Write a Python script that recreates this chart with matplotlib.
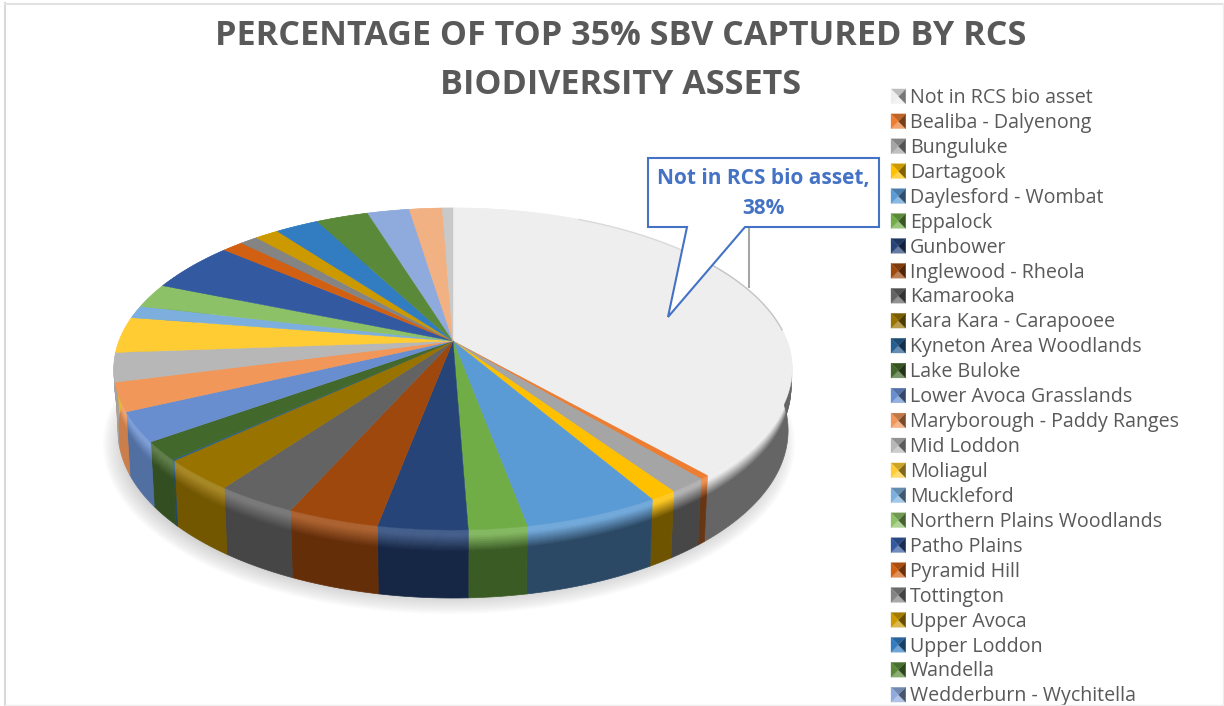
import matplotlib
matplotlib.use('Agg')
import matplotlib.pyplot as plt
import numpy as np
from matplotlib.collections import PolyCollection
from matplotlib.colors import to_rgb
from matplotlib.legend_handler import HandlerBase
from matplotlib.patches import Ellipse, Patch, Polygon

# Data (percent of top 35% SBV)
assets = ['Not in RCS bio asset', 'Bealiba - Dalyenong', 'Bunguluke', 'Dartagook',
          'Daylesford - Wombat', 'Eppalock', 'Gunbower', 'Inglewood - Rheola',
          'Kamarooka', 'Kara Kara - Carapooee', 'Kyneton Area Woodlands', 'Lake Buloke',
          'Lower Avoca Grasslands', 'Maryborough - Paddy Ranges', 'Mid Loddon', 'Moliagul',
          'Muckleford', 'Northern Plains Woodlands', 'Patho Plains', 'Pyramid Hill',
          'Tottington', 'Upper Avoca', 'Upper Loddon', 'Wandella', 'Wedderburn - Wychitella']
# the last two slices have no visible legend entry, the legend is cut off in the picture
values = [38.4, 0.4, 1.55, 1.1, 5.5, 2.35, 3.6, 3.7, 3.3, 3.15, 0.1, 1.85, 2.95,
          2.85, 2.9, 3.6, 1.25, 2.45, 5.05, 1.2, 1.0, 1.35, 2.45, 2.95, 2.35, 1.85, 0.6]
colors = ['#EEEEEE', '#ED7D31', '#A5A5A5', '#FFC000', '#5B9BD5', '#70AD47', '#264478',
          '#9E480E', '#636363', '#997300', '#255E91', '#43682B', '#698ED0', '#F1975A',
          '#B7B7B7', '#FFCD33', '#7CAFDD', '#8CC168', '#335AA1', '#D26012', '#848484',
          '#CC9A00', '#327DC2', '#5A8A39', '#8FAADC', '#F1B183', '#C9C9C9']

title_lines = ['PERCENTAGE OF TOP 35% SBV CAPTURED BY RCS', 'BIODIVERSITY ASSETS']
TEXT_GREY = '#595959'
FONT = ['Open Sans', 'DejaVu Sans']


def project(theta, r=1.0, depth=0.0):
    # disc angle (clockwise from the far side) to pixels, perspective view of the pie
    u = r * np.sin(theta)
    v = r * np.cos(theta)
    w = 1 + 0.174 * v
    x = 453 + 334 * u / w
    y = (341 - 96.8 * v) / w
    drop = depth * (60 - 8 * v) / 60
    return x - (x - 453) * 0.012 * depth / 60, y + drop


def mix(c, other, t):
    return tuple((1 - t) * a + t * b for a, b in zip(to_rgb(c), to_rgb(other)))


def wall_colour(c, f, dark):
    # bevel: light edge just under the top face, fading into the dark wall
    shade = mix(c, 'black', dark)
    if f < 0.07:
        return mix(c, 'white', 0.14)
    if f < 0.30:
        return mix(mix(c, 'white', 0.14), shade, (f - 0.07) / 0.23)
    return shade


fig = plt.figure(figsize=(12.24, 7.06), dpi=100)
ax = fig.add_axes([0, 0, 1, 1])
ax.set_xlim(0, 1224)
ax.set_ylim(706, 0)
ax.axis('off')

# soft shadow under the pie
for i in range(16):
    ax.add_patch(Ellipse((449, 444), 2 * (346 - i * 1.6), 2 * (170 - i * 1.4),
                         facecolor='#707070', alpha=0.022, lw=0, zorder=1))

edges = 2 * np.pi * np.cumsum([0] + values) / np.sum(values)

# pie wall, fine strips for the bevel and one big strip below it
depth = 60
strips = np.r_[np.linspace(0, 0.3, 11), 1.0]
for a0, a1, c in zip(edges[:-1], edges[1:], colors):
    t = np.linspace(a0, a1, max(4, int((a1 - a0) * 60)))
    # the light falls from the left, the wall gets darker toward the right
    dark = np.interp(np.degrees((a0 + a1) / 2), [0, 150, 175, 195, 215, 240, 262, 360],
                     [0.58, 0.57, 0.47, 0.38, 0.27, 0.22, 0.10, 0.10])
    polys, cols = [], []
    for f0, f1 in zip(strips[:-1], strips[1:]):
        x0, y0 = project(t, depth=f0 * depth)
        x1, y1 = project(t, depth=f1 * depth)
        polys.append(np.column_stack([np.r_[x0, x1[::-1]], np.r_[y0, y1[::-1]]]))
        cols.append(wall_colour(c, f0, dark))
    ax.add_collection(PolyCollection(polys, facecolors=cols, edgecolors=cols,
                                     linewidths=0.5, zorder=2))

# top face
for a0, a1, c in zip(edges[:-1], edges[1:], colors):
    t = np.linspace(a0, a1, max(4, int((a1 - a0) * 80)))
    x, y = project(t)
    hx, hy = project(0.0, r=0.0)
    ax.add_patch(Polygon(np.column_stack([np.r_[hx, x], np.r_[hy, y]]), closed=True,
                         facecolor=c, edgecolor=c, lw=0.3, zorder=3))

# thin grey rim on the far right of the largest slice
ax.plot(*project(np.linspace(0.45, 0.95, 40)), color='#dadada', lw=1, zorder=4)
ax.plot(*project(np.linspace(0.95, edges[1] * 0.62, 40)), color='#c4c4c4', lw=1, zorder=4)

# callout
ax.plot([749, 749], [227, 287], color='#A6A6A6', lw=1.5, zorder=5)
ax.add_patch(Polygon([(648, 158), (879, 158), (879, 227), (745, 227), (668, 317),
                      (687, 227), (648, 227)], closed=True, facecolor='white',
                     edgecolor='#4472C4', lw=1.5, zorder=6))
ax.text(763, 193.5, f'{assets[0]},\n{values[0]:.0f}%', color='#4472C4', fontsize=15,
        fontweight='bold', family=FONT, ha='center', va='center', linespacing=1.55, zorder=7)

# title
ax.text(621, 36, title_lines[0], color=TEXT_GREY, fontsize=24.55, fontweight='bold',
        family=FONT, ha='center', va='center')
ax.text(621, 85, title_lines[1], color=TEXT_GREY, fontsize=24.55, fontweight='bold',
        family=FONT, ha='center', va='center')


class BevelKey(HandlerBase):
    # legend key: square split in four shaded triangles
    def create_artists(self, legend, orig_handle, xdescent, ydescent, width, height,
                       fontsize, trans):
        c = orig_handle.get_facecolor()
        s = height * 1.07
        x0, y0 = -xdescent, -ydescent - 0.05 * height
        mx, my = x0 + s / 2, y0 + s / 2
        corners = [(x0, y0), (x0 + s, y0), (x0 + s, y0 + s), (x0, y0 + s)]
        tints = [mix(c, 'white', 0.3), mix(c, 'black', 0.5), mix(c, 'black', 0.2), c]
        arts = []
        for i, tint in enumerate(tints):
            tri = Polygon([corners[i], corners[(i + 1) % 4], (mx, my)], closed=True,
                          facecolor=tint, edgecolor=tint, lw=0.2, transform=trans)
            arts.append(tri)
        return arts


handles = [Patch(facecolor=c) for c in colors[:len(assets)]]
leg = ax.legend(handles, assets, loc='upper left', bbox_to_anchor=(891, 88),
                bbox_transform=ax.transData, frameon=False, borderpad=0, borderaxespad=0,
                prop={'family': FONT, 'size': 14.15}, labelcolor=TEXT_GREY,
                labelspacing=0.251, handlelength=0.8, handletextpad=0.17,
                handler_map={Patch: BevelKey()})
leg.set_zorder(8)

# chart border
ax.plot([5, 5], [3, 706], color='#D9D9D9', lw=1.5, zorder=9)
ax.plot([5, 1224], [3.5, 3.5], color='#E2E2E2', lw=1.5, zorder=9)
ax.plot([1223, 1223], [3, 706], color='#EEEEEE', lw=1, zorder=9)
ax.plot([5, 1224], [705, 705], color='#EEEEEE', lw=1, zorder=9)

fig.savefig('out.png', dpi=100)
